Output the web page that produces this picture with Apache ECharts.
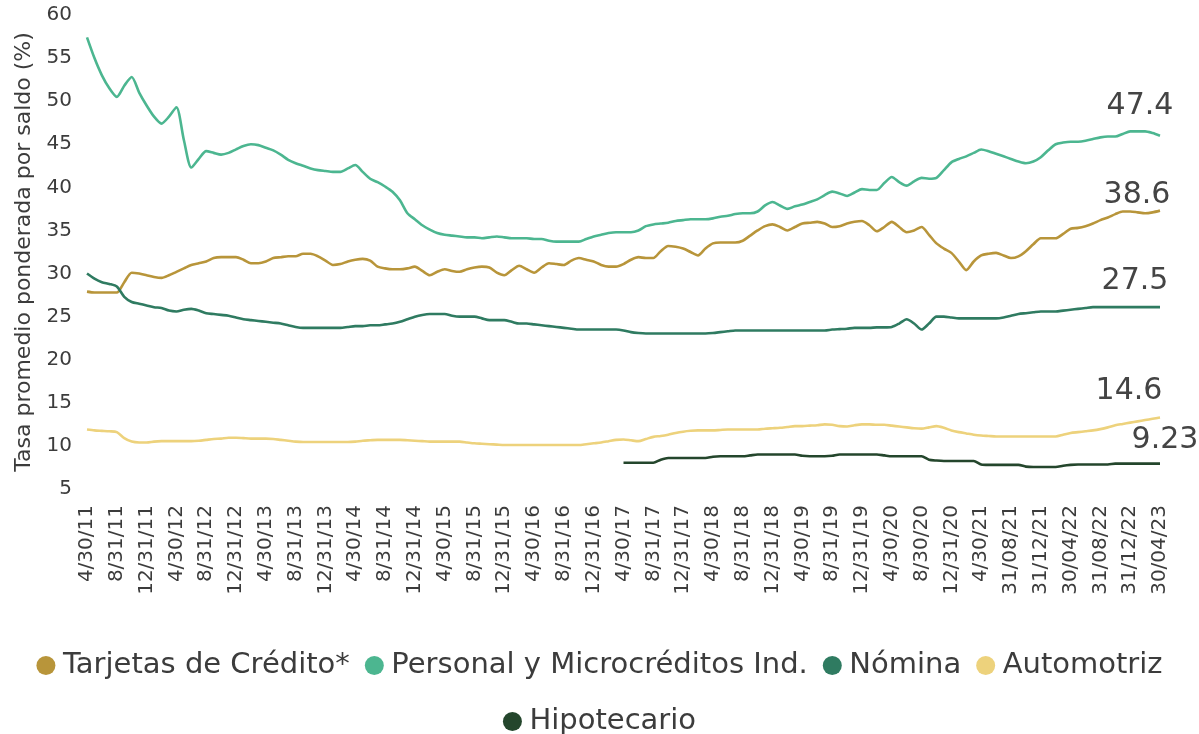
<!DOCTYPE html>
<html>
<head>
<meta charset="utf-8">
<script src="https://cdn.jsdelivr.net/npm/echarts@6/dist/echarts.min.js"></script>
<style>
  html, body { margin: 0; padding: 0; background: #fff; }
  #main { width: 1199px; height: 734px; }
</style>
</head>
<body>
<div id="main"></div>
<script>
// tick labels, one every 4 months (data is monthly)
const ticks = ['4/30/11','8/31/11','12/31/11','4/30/12','8/31/12','12/31/12','4/30/13','8/31/13','12/31/13',
  '4/30/14','8/31/14','12/31/14','4/30/15','8/31/15','12/31/15','4/30/16','8/31/16','12/31/16',
  '4/30/17','8/31/17','12/31/17','4/30/18','8/31/18','12/31/18','4/30/19','8/31/19','12/31/19',
  '4/30/20','8/30/20','12/31/20','4/30/21','31/08/21','31/12/21','30/04/22','31/08/22','31/12/22','30/04/23'];

const tarjetas = [
  27.9, 27.8, 27.8, 27.8, 27.8, 29.0, 30.1, 30.0, 29.8, 29.6,
  29.5, 29.8, 30.2, 30.6, 31.0, 31.2, 31.4, 31.8, 31.9, 31.9,
  31.9, 31.6, 31.2, 31.2, 31.4, 31.8, 31.9, 32.0, 32.0, 32.3,
  32.3, 32.0, 31.5, 31.0, 31.1, 31.4, 31.6, 31.7, 31.5, 30.8,
  30.6, 30.5, 30.5, 30.6, 30.8, 30.3, 29.8, 30.2, 30.5, 30.3,
  30.2, 30.5, 30.7, 30.8, 30.7, 30.1, 29.8, 30.4, 30.9, 30.5,
  30.1, 30.7, 31.2, 31.1, 31.0, 31.5, 31.8, 31.6, 31.4, 31.0,
  30.8, 30.8, 31.1, 31.6, 31.9, 31.8, 31.8, 32.6, 33.2, 33.1,
  32.9, 32.5, 32.1, 32.9, 33.5, 33.6, 33.6, 33.6, 33.8, 34.4,
  35.0, 35.5, 35.7, 35.4, 35.0, 35.4, 35.8, 35.9, 36.0, 35.8,
  35.4, 35.5, 35.8, 36.0, 36.1, 35.6, 34.9, 35.4, 36.0, 35.4,
  34.8, 35.0, 35.4, 34.5, 33.5, 32.9, 32.4, 31.4, 30.4, 31.4,
  32.1, 32.3, 32.4, 32.1, 31.8, 32.0, 32.6, 33.4, 34.1, 34.1,
  34.1, 34.6, 35.2, 35.3, 35.5, 35.8, 36.2, 36.5, 36.9, 37.2,
  37.2, 37.1, 37.0, 37.1, 37.3
];

const personal = [
  57.4, 55.0, 53.0, 51.5, 50.5, 51.8, 52.8, 51.0, 49.5, 48.2,
  47.4, 48.2, 49.3, 45.5, 42.3, 43.3, 44.2, 44.0, 43.8, 44.0,
  44.4, 44.8, 45.0, 44.9, 44.6, 44.3, 43.8, 43.2, 42.8, 42.5,
  42.2, 42.0, 41.9, 41.8, 41.8, 42.2, 42.6, 41.8, 41.0, 40.6,
  40.1, 39.5, 38.5, 37.0, 36.3, 35.6, 35.1, 34.7, 34.5, 34.4,
  34.3, 34.2, 34.2, 34.1, 34.2, 34.3, 34.2, 34.1, 34.1, 34.1,
  34.0, 34.0, 33.8, 33.7, 33.7, 33.7, 33.7, 34.0, 34.3, 34.5,
  34.7, 34.8, 34.8, 34.8, 35.0, 35.5, 35.7, 35.8, 35.9, 36.1,
  36.2, 36.3, 36.3, 36.3, 36.4, 36.6, 36.7, 36.9, 37.0, 37.0,
  37.2, 37.9, 38.3, 37.9, 37.5, 37.8, 38.0, 38.3, 38.6, 39.1,
  39.5, 39.3, 39.0, 39.4, 39.8, 39.7, 39.7, 40.5, 41.2, 40.6,
  40.2, 40.7, 41.1, 41.0, 41.1, 42.0, 42.9, 43.3, 43.6, 44.0,
  44.4, 44.2, 43.9, 43.6, 43.3, 43.0, 42.8, 43.0, 43.5, 44.3,
  45.0, 45.2, 45.3, 45.3, 45.4, 45.6, 45.8, 45.9, 45.9, 46.2,
  46.5, 46.5, 46.5, 46.3, 46.0
];

const nomina = [
  30.0, 29.4, 29.0, 28.8, 28.5, 27.3, 26.7, 26.5, 26.3, 26.1,
  26.0, 25.7, 25.6, 25.8, 25.9, 25.7, 25.4, 25.3, 25.2, 25.1,
  24.9, 24.7, 24.6, 24.5, 24.4, 24.3, 24.2, 24.0, 23.8, 23.7,
  23.7, 23.7, 23.7, 23.7, 23.7, 23.8, 23.9, 23.9, 24.0, 24.0,
  24.1, 24.2, 24.4, 24.7, 25.0, 25.2, 25.3, 25.3, 25.3, 25.1,
  25.0, 25.0, 25.0, 24.8, 24.6, 24.6, 24.6, 24.4, 24.2, 24.2,
  24.1, 24.0, 23.9, 23.8, 23.7, 23.6, 23.5, 23.5, 23.5, 23.5,
  23.5, 23.5, 23.4, 23.2, 23.1, 23.05, 23.05, 23.05, 23.05, 23.05,
  23.05, 23.05, 23.05, 23.05, 23.1, 23.2, 23.3, 23.4, 23.4, 23.4,
  23.4, 23.4, 23.4, 23.4, 23.4, 23.4, 23.4, 23.4, 23.4, 23.4,
  23.5, 23.55, 23.6, 23.7, 23.7, 23.7, 23.75, 23.75, 23.8, 24.2,
  24.7, 24.2, 23.5, 24.2, 25.0, 25.0, 24.9, 24.8, 24.8, 24.8,
  24.8, 24.8, 24.8, 24.9, 25.1, 25.3, 25.4, 25.5, 25.6, 25.6,
  25.6, 25.7, 25.8, 25.9, 26.0, 26.1, 26.1, 26.1, 26.1, 26.1,
  26.1, 26.1, 26.1, 26.1, 26.1
];

const automotriz = [
  11.9, 11.8, 11.75, 11.7, 11.6, 10.9, 10.5, 10.4, 10.4, 10.5,
  10.55, 10.55, 10.55, 10.55, 10.55, 10.6, 10.7, 10.8, 10.85, 10.95,
  10.95, 10.9, 10.85, 10.85, 10.85, 10.8, 10.7, 10.6, 10.5, 10.45,
  10.45, 10.45, 10.45, 10.45, 10.45, 10.45, 10.5, 10.6, 10.65, 10.7,
  10.7, 10.7, 10.7, 10.65, 10.6, 10.55, 10.5, 10.5, 10.5, 10.5,
  10.5, 10.4, 10.3, 10.25, 10.2, 10.15, 10.1, 10.1, 10.1, 10.1,
  10.1, 10.1, 10.1, 10.1, 10.1, 10.1, 10.1, 10.2, 10.3, 10.4,
  10.55, 10.7, 10.75, 10.65, 10.55, 10.8, 11.05, 11.15, 11.3, 11.5,
  11.65, 11.75, 11.8, 11.8, 11.8, 11.85, 11.9, 11.9, 11.9, 11.9,
  11.9, 12.0, 12.05, 12.1, 12.2, 12.3, 12.3, 12.35, 12.4, 12.5,
  12.45, 12.3, 12.25, 12.4, 12.5, 12.5, 12.45, 12.45, 12.35, 12.25,
  12.15, 12.05, 12.0, 12.15, 12.3, 12.1, 11.8, 11.6, 11.45, 11.3,
  11.2, 11.15, 11.1, 11.1, 11.1, 11.1, 11.1, 11.1, 11.1, 11.1,
  11.1, 11.3, 11.5, 11.6, 11.7, 11.8, 11.95, 12.15, 12.4, 12.55,
  12.7, 12.85, 13.0, 13.15, 13.3
];

// hipotecario starts at 4/30/17 (month index 72)
const hipotecarioStart = 72;
const hipotecario = [
  8.05, 8.05, 8.05, 8.05, 8.05, 8.4, 8.6, 8.6,
  8.6, 8.6, 8.6, 8.6, 8.75, 8.8, 8.8, 8.8, 8.8, 8.9,
  9.0, 9.0, 9.0, 9.0, 9.0, 9.0, 8.85, 8.8, 8.8, 8.8,
  8.85, 9.0, 9.0, 9.0, 9.0, 9.0, 9.0, 8.9, 8.8, 8.8,
  8.8, 8.8, 8.8, 8.4, 8.3, 8.25, 8.25, 8.25, 8.25, 8.25,
  7.85, 7.8, 7.8, 7.8, 7.8, 7.8, 7.6, 7.55, 7.55, 7.55,
  7.55, 7.7, 7.8, 7.85, 7.85, 7.85, 7.85, 7.85, 7.95, 7.95,
  7.95, 7.95, 7.95, 7.95, 7.95
];

const seriesNames = ['Tarjetas de Crédito*', 'Personal y Microcréditos Ind.', 'Nómina', 'Automotriz', 'Hipotecario'];
const endLabels = ['38.6', '47.4', '27.5', '14.6', '9.23'];

const colors = ['#b8953a', '#4cb690', '#2f7b61', '#edd27c', '#24462c'];
const FONT = 'DejaVu Sans';

// monthly categories; only every 4th one is shown as a tick label
const categories = [];
for (let k = 0; k < ticks.length; k++) {
  categories.push(ticks[k]);
  if (k < ticks.length - 1) {
    for (let j = 1; j < 4; j++) categories.push(ticks[k] + ' +' + j);
  }
}

const hipotecarioData = new Array(hipotecarioStart).fill(null).concat(hipotecario);
const allData = [tarjetas, personal, nomina, automotriz, hipotecarioData];
const labelOffsets = [[-23, 5], [-20, -9], [-25, -6], [-31, -6], [5, -3]];

const myChart = echarts.init(document.getElementById('main'));

const series = allData.map((vals, s) => {
  const last = vals.length - 1;
  return {
    name: seriesNames[s],
    type: 'line',
    smooth: 0.25,
    symbol: 'circle',
    symbolSize: 0,
    showSymbol: true,
    showAllSymbol: true,
    lineStyle: { width: 2.6, color: colors[s] },
    itemStyle: { color: colors[s] },
    label: { show: false },
    emphasis: { disabled: true },
    data: vals.map((v, i) => i === last ? {
      value: v,
      label: {
        show: true,
        position: 'top',
        offset: labelOffsets[s],
        formatter: endLabels[s],
        color: '#444',
        fontSize: 30,
        fontFamily: FONT
      }
    } : v)
  };
});

const legendText = { fontSize: 29, color: '#3c3c3c', fontFamily: FONT };

myChart.setOption({
  animation: false,
  color: colors,
  grid: { left: 87, right: 39, top: 15, bottom: 245 },
  legend: [{
    data: seriesNames.slice(0, 4),
    top: 646,
    left: 'center',
    icon: 'circle',
    itemWidth: 24,
    itemHeight: 19,
    itemGap: 15,
    textStyle: legendText
  }, {
    data: seriesNames.slice(4),
    top: 702,
    left: 'center',
    icon: 'circle',
    itemWidth: 24,
    itemHeight: 19,
    textStyle: legendText
  }],
  xAxis: {
    type: 'category',
    boundaryGap: false,
    data: categories,
    axisLine: { show: false },
    axisTick: { show: false },
    splitLine: { show: false },
    axisLabel: {
      interval: 3,
      rotate: 90,
      margin: 16,
      fontSize: 20,
      color: '#3c3c3c',
      fontFamily: FONT
    }
  },
  yAxis: {
    type: 'value',
    min: 5,
    max: 60,
    interval: 5,
    name: 'Tasa promedio ponderada por saldo (%)',
    nameLocation: 'middle',
    nameGap: 52,
    nameTextStyle: { fontSize: 22, color: '#3c3c3c', fontFamily: FONT },
    axisLine: { show: false },
    axisTick: { show: false },
    splitLine: { show: false },
    axisLabel: { fontSize: 20, color: '#3c3c3c', margin: 15, fontFamily: FONT }
  },
  series: series
});

window.addEventListener('resize', () => {
  myChart.resize();
});
</script>
</body>
</html>
